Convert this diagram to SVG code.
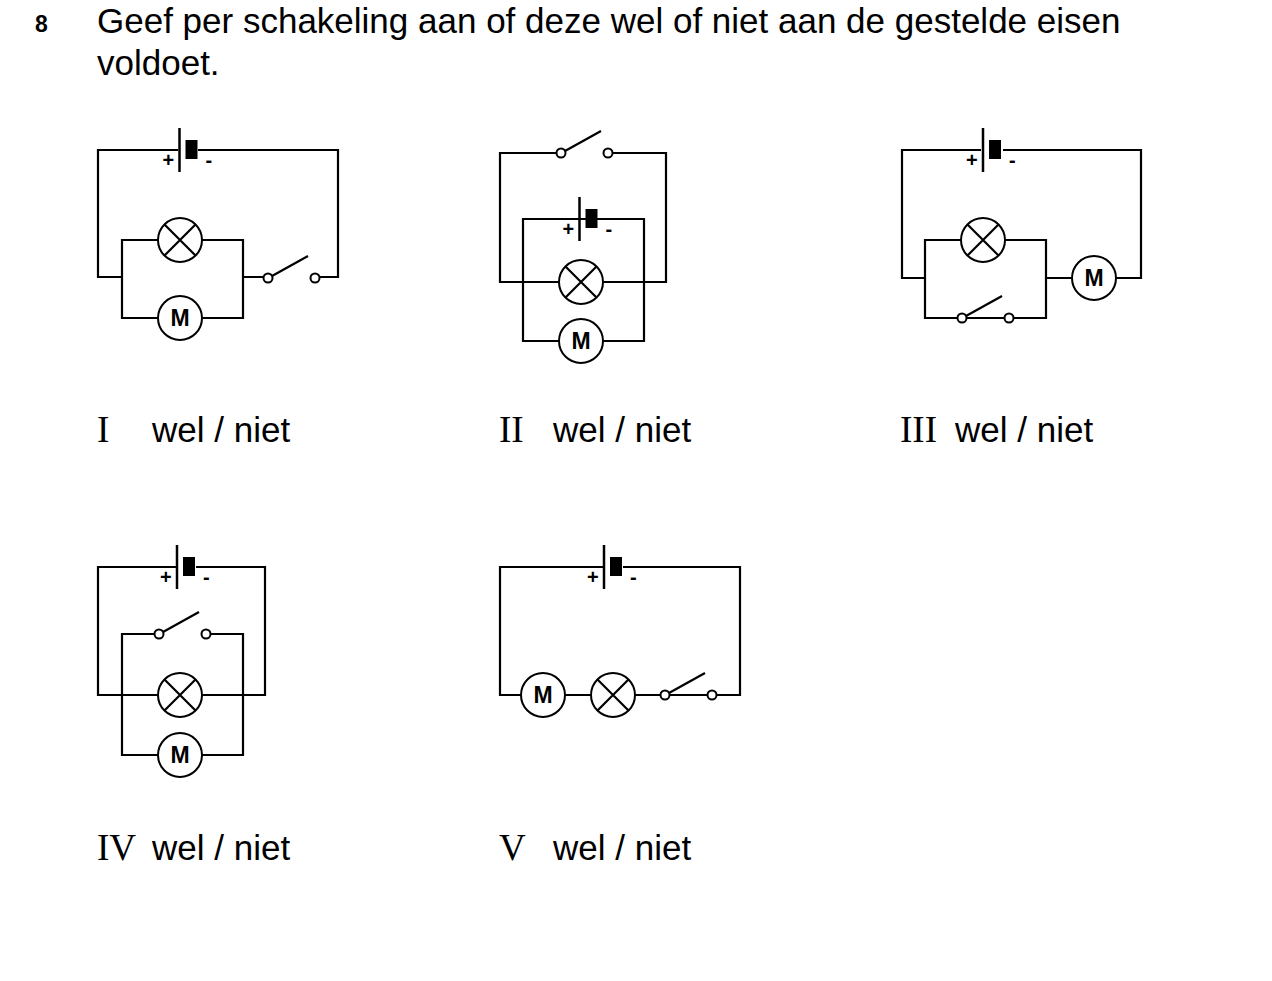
<svg xmlns="http://www.w3.org/2000/svg" width="1272" height="981" viewBox="0 0 1272 981">
<style>
.w{fill:none;stroke:#000;stroke-width:2.2}
.c{fill:#fff;stroke:#000;stroke-width:2}
.t{font-family:"Liberation Sans",Arial,sans-serif;font-size:35px}
.r{font-family:"Liberation Serif","Times New Roman",serif;font-size:37px}
.m{font-family:"Liberation Sans",Arial,sans-serif;font-size:23px;font-weight:bold;text-anchor:middle}
.p{font-family:"Liberation Sans",Arial,sans-serif;font-size:20px;font-weight:bold}
</style>
<defs>
<g id="lamp"><circle class="c" r="22"/><path class="w" d="M-15.5,-15.5L15.5,15.5M-15.5,15.5L15.5,-15.5" stroke-width="2"/></g>
<g id="motor"><circle class="c" r="22"/><text class="m" y="8">M</text></g>
<g id="bat"><line x1="0" y1="-22" x2="0" y2="22" stroke="#000" stroke-width="2.5"/><rect x="6" y="-10" width="12" height="19" fill="#000"/><text class="p" x="-17" y="17">+</text><text class="p" x="26" y="17">-</text></g>
<g id="sw"><circle class="c" r="4.5"/><circle class="c" cx="47" r="4.5"/><line class="w" x1="4" y1="-2" x2="40" y2="-22"/></g>
</defs>
<text x="35" y="32" style="font-family:'Liberation Sans',Arial,sans-serif;font-size:23px;font-weight:bold">8</text>
<text class="t" x="97" y="33">Geef per schakeling aan of deze wel of niet aan de gestelde eisen</text>
<text class="t" x="97" y="75">voldoet.</text>

<g id="connectors">
<path class="w" d="M178,150H98V277H122M198,150H338V277H319M243,277H264M122,240H243V318H122Z"/>
<path class="w" d="M556,153H500V282H666V153H612M523,219H644V341H523Z"/>
<path class="w" d="M981,150H902V278H925M1003,150H1141V278H1116M1072,278H1046M925,240H1046V318H925Z"/>
<path class="w" d="M176,567H98V695H265V567H196M154,634H122V755H243V634H211"/>
<path class="w" d="M603,567H500V695H740V567H623M565,695H591M635,695H660"/>
</g>

<g id="c1">
<use href="#bat" x="179.5" y="150"/><use href="#lamp" x="180" y="240"/><use href="#motor" x="180" y="318"/><use href="#sw" x="268" y="278"/>
</g>
<g id="c2">
<use href="#sw" x="561" y="153"/><use href="#bat" x="579.5" y="219"/><use href="#lamp" x="581" y="282"/><use href="#motor" x="581" y="341"/>
</g>
<g id="c3">
<use href="#bat" x="983" y="150"/><use href="#lamp" x="983" y="240"/><use href="#sw" x="962" y="318"/><use href="#motor" x="1094" y="278"/>
</g>
<g id="c4">
<use href="#bat" x="177" y="567"/><use href="#sw" x="159" y="634"/><use href="#lamp" x="180" y="695"/><use href="#motor" x="180" y="755"/>
</g>
<g id="c5">
<use href="#bat" x="604" y="567"/><use href="#motor" x="543" y="695"/><use href="#lamp" x="613" y="695"/><use href="#sw" x="665" y="695"/>
</g>

<g id="labels">
<text class="r" x="97" y="442">I</text><text class="t" x="152" y="442">wel / niet</text>
<text class="r" x="499" y="442">II</text><text class="t" x="553" y="442">wel / niet</text>
<text class="r" x="900" y="442">III</text><text class="t" x="955" y="442">wel / niet</text>
<text class="r" x="97" y="860">IV</text><text class="t" x="152" y="860">wel / niet</text>
<text class="r" x="499" y="860">V</text><text class="t" x="553" y="860">wel / niet</text>
</g>
</svg>
